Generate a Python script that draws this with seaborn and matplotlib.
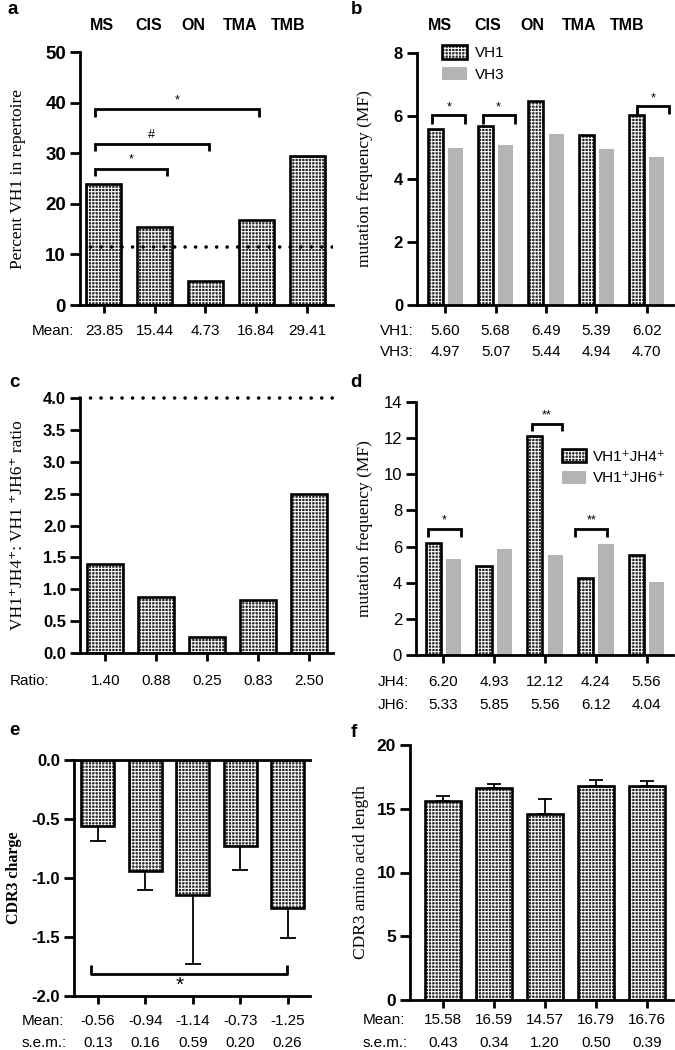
import numpy as np
import pandas as pd
import seaborn as sns
import matplotlib
matplotlib.use("Agg")
import matplotlib.pyplot as plt
import matplotlib.transforms as mtransforms
from matplotlib.patches import Rectangle, Patch
from matplotlib.legend_handler import HandlerTuple

# ---------------- data ----------------
groups = ["MS", "CIS", "ON", "TMA", "TMB"]
a_mean = [23.85, 15.44, 4.73, 16.84, 29.41]
a_ref = 11.5
b_vh1 = [5.60, 5.68, 6.49, 5.39, 6.02]
b_vh3 = [4.97, 5.07, 5.44, 4.94, 4.70]
c_ratio = [1.40, 0.88, 0.25, 0.83, 2.50]
c_ref = 4.0
d_jh4 = [6.20, 4.93, 12.12, 4.24, 5.56]
d_jh6 = [5.33, 5.85, 5.56, 6.12, 4.04]
e_mean = [-0.56, -0.94, -1.14, -0.73, -1.25]
e_sem = [0.13, 0.16, 0.59, 0.20, 0.26]
f_mean = [15.58, 16.59, 14.57, 16.79, 16.76]
f_sem = [0.43, 0.34, 1.20, 0.50, 0.39]

# significance annotations: (x0, x1, y, drop, text)
a_sig = [(-0.18, 1.24, 26.9, 1.5, "*"), (-0.18, 2.06, 31.8, 1.4, "#"), (-0.18, 3.06, 38.7, 1.6, "*")]
b_sig = [(-0.26, 0.40, 6.03, 0.28, "*"), (0.74, 1.38, 6.03, 0.28, "*"), (3.80, 4.44, 6.32, 0.25, "*")]
d_sig = [(-0.30, 0.34, 6.97, 0.45, "*"), (1.74, 2.34, 12.78, 0.40, "**"), (2.60, 3.22, 6.97, 0.45, "**")]
e_sig = [(-0.15, 3.98, -1.81, -0.07, "*")]

# ---------------- style ----------------
sns.set_theme(style="ticks")
plt.rcParams["font.family"] = ["Liberation Sans", "DejaVu Sans"]
plt.rcParams["axes.unicode_minus"] = False
plt.rcParams["hatch.linewidth"] = 0.7
for k in ["text.color", "axes.labelcolor", "xtick.color", "ytick.color", "axes.edgecolor"]:
    plt.rcParams[k] = "black"

HATCH_FACE = "#2a2a2a"
HATCH = "+" * 5
GREY = "#b4b4b4"
SERIF = ["Liberation Serif", "DejaVu Serif"]

W, H = 675, 1050
fig = plt.figure(figsize=(W / 100, H / 100), dpi=100)


def px_axes(l, t, r, b):
    return fig.add_axes([l / W, 1 - b / H, (r - l) / W, (b - t) / H])


def fy(y):
    return 1 - y / H


def hatchify(ax, patches):
    for p in patches:
        p.set_facecolor(HATCH_FACE)
        p.set_edgecolor("white")
        p.set_hatch(HATCH)
        p.set_linewidth(0)
        r = Rectangle((p.get_x(), p.get_y()), p.get_width(), p.get_height(), fill=False,
                      edgecolor="black", linewidth=1.9, zorder=p.get_zorder() + 0.2)
        ax.add_patch(r)


def style(ax, xlim, ylim, yticks, fmt, tsize, bold=True):
    sns.despine(ax=ax)
    for s in ["left", "bottom"]:
        ax.spines[s].set_linewidth(2.0)
    ax.set_xlim(*xlim)
    ax.set_ylim(*ylim)
    ax.set_yticks(yticks)
    ax.set_yticklabels([fmt.format(v) for v in yticks], fontsize=tsize,
                       fontweight="bold" if bold else "normal")
    ax.set_xticks(range(len(groups)))
    ax.set_xticklabels([])
    ax.tick_params(axis="y", width=2.0, length=7, pad=3)
    ax.tick_params(axis="x", width=2.0, length=6)
    ax.set_xlabel("")


def ylabel(ax, text, xpx, size, weight="normal"):
    ax.set_ylabel(text, family=SERIF, fontsize=size, fontweight=weight)
    bb = ax.get_position()
    left_px = bb.x0 * W
    ax.yaxis.set_label_coords((xpx - left_px) / (bb.width * W), 0.5)


def row(ax, label, lx, y, vals, xs):
    fig.text(lx / W, fy(y), label, ha="left", va="center", fontsize=11)
    tr = mtransforms.blended_transform_factory(ax.transData, fig.transFigure)
    for x, v in zip(xs, vals):
        ax.text(x, fy(y), f"{v:.2f}", transform=tr, ha="center", va="center", fontsize=11)


def brackets(ax, specs, fs, tgap=0.0):
    for x0, x1, y, drop, t in specs:
        ax.plot([x0, x0, x1, x1], [y - drop, y, y, y - drop], color="black", lw=2.0,
                solid_capstyle="butt", solid_joinstyle="miter", clip_on=False, zorder=5)
        ax.text((x0 + x1) / 2, y + tgap, t, ha="center", va="bottom", fontsize=fs, zorder=5)


def centers(patches):
    return [p.get_x() + p.get_width() / 2 for p in patches]


def top_labels(xs, y):
    for x, g in zip(xs, groups):
        fig.text(x / W, fy(y), g, ha="center", va="center", fontsize=11.5, fontweight="bold")


def letter(x, y, t):
    fig.text(x / W, fy(y), t, ha="left", va="top", fontsize=13.5, fontweight="bold")


legend_h1 = (Patch(facecolor=HATCH_FACE, edgecolor="white", hatch=HATCH, linewidth=0),
             Patch(fill=False, edgecolor="black", linewidth=1.9))
legend_h2 = Patch(facecolor=GREY, edgecolor="none")

# ---------------- panel a ----------------
ax = px_axes(80, 52, 333, 305)
sns.barplot(x=groups, y=a_mean, ax=ax, width=0.69, errorbar=None, color=HATCH_FACE)
hatchify(ax, list(ax.patches))
ax.axhline(a_ref, color="black", lw=2.6, linestyle=(0, (0.01, 2.9)), dash_capstyle="round", zorder=6)
style(ax, (-0.47, 4.51), (0, 50), list(range(0, 51, 10)), "{:d}", 13.5)
brackets(ax, a_sig, 9, tgap=0.6)
ylabel(ax, "Percent VH1 in repertoire", 26, 12.5)
row(ax, "Mean:", 32, 331, a_mean, centers(ax.patches[:5]))
top_labels([102, 149, 193, 240, 288], 25)
letter(7, 1, "a")

# ---------------- panel b ----------------
ax = px_axes(417, 53, 673, 305)
dfb = pd.DataFrame({"group": groups * 2, "series": ["VH1"] * 5 + ["VH3"] * 5, "value": b_vh1 + b_vh3})
sns.barplot(data=dfb, x="group", y="value", hue="series", palette={"VH1": HATCH_FACE, "VH3": GREY},
            width=0.8, gap=0.25, errorbar=None, ax=ax, legend=False)
vh1_bars = list(ax.containers[0])
for p in ax.containers[1]:
    p.set_linewidth(0)
hatchify(ax, vh1_bars)
style(ax, (-0.56, 4.52), (0, 8), [0, 2, 4, 6, 8], "{:d}", 12)
brackets(ax, b_sig, 9, tgap=0.05)
ylabel(ax, "mutation frequency (MF)", 373, 12.5)
gc = list(range(5))
row(ax, "VH1:", 380, 331, b_vh1, gc)
row(ax, "VH3:", 380, 352, b_vh3, gc)
top_labels([440, 488, 532, 579, 627], 25)
letter(351, 1, "b")
ax.legend([legend_h1, legend_h2], ["VH1", "VH3"], handler_map={tuple: HandlerTuple(ndivide=1)},
          loc="upper left", bbox_to_anchor=(0.098, 1.03), frameon=False, fontsize=11,
          handlelength=1.6, handleheight=0.95, handletextpad=0.55, labelspacing=0.45,
          borderpad=0, borderaxespad=0)

# ---------------- panel c ----------------
ax = px_axes(80, 398, 333, 653)
sns.barplot(x=groups, y=c_ratio, ax=ax, width=0.71, errorbar=None, color=HATCH_FACE)
hatchify(ax, list(ax.patches))
ax.axhline(c_ref, color="black", lw=2.6, linestyle=(0, (0.01, 2.9)), dash_capstyle="round",
           zorder=6, clip_on=False)
style(ax, (-0.5, 4.48), (0, 4.0), [i * 0.5 for i in range(9)], "{:.1f}", 12)
ylabel(ax, "VH1⁺JH4⁺: VH1 ⁺JH6⁺ ratio", 26, 12.5)
row(ax, "Ratio:", 10, 681, c_ratio, centers(ax.patches[:5]))
letter(9, 374, "c")

# ---------------- panel d ----------------
ax = px_axes(416, 402, 673, 655)
dfd = pd.DataFrame({"group": groups * 2, "series": ["JH4"] * 5 + ["JH6"] * 5, "value": d_jh4 + d_jh6})
sns.barplot(data=dfd, x="group", y="value", hue="series", palette={"JH4": HATCH_FACE, "JH6": GREY},
            width=0.8, gap=0.25, errorbar=None, ax=ax, legend=False)
jh4_bars = list(ax.containers[0])
for p in ax.containers[1]:
    p.set_linewidth(0)
hatchify(ax, jh4_bars)
style(ax, (-0.54, 4.52), (0, 14), list(range(0, 15, 2)), "{:d}", 12, bold=False)
brackets(ax, d_sig, 9, tgap=0.15)
ylabel(ax, "mutation frequency (MF)", 373, 12.5)
row(ax, "JH4:", 378, 682, d_jh4, gc)
row(ax, "JH6:", 378, 705, d_jh6, gc)
letter(350, 374, "d")
ax.legend([legend_h1, legend_h2], ["VH1⁺JH4⁺", "VH1⁺JH6⁺"], handler_map={tuple: HandlerTuple(ndivide=1)},
          loc="upper left", bbox_to_anchor=(0.568, 0.815), frameon=False, fontsize=11,
          handlelength=1.6, handleheight=0.95, handletextpad=0.45, labelspacing=0.45,
          borderpad=0, borderaxespad=0)

# ---------------- panel e ----------------
ax = px_axes(74, 760, 310, 996)
sns.barplot(x=groups, y=e_mean, ax=ax, width=0.69, errorbar=None, color=HATCH_FACE)
bars_e = list(ax.patches)
hatchify(ax, bars_e)
xe = centers(bars_e)
ax.errorbar(xe, e_mean, yerr=[e_sem, [0] * len(e_sem)], fmt="none", ecolor="black",
            elinewidth=1.3, capsize=6, capthick=1.3, zorder=0.5)
style(ax, (-0.5, 4.47), (-2.0, 0.0), [-2.0, -1.5, -1.0, -0.5, 0.0], "{:.1f}", 12)
ax.spines["top"].set_visible(True)
ax.spines["top"].set_linewidth(2.0)
for x0, x1, y, drop, t in e_sig:
    ax.plot([x0, x0, x1, x1], [y - drop, y, y, y - drop], color="black", lw=2.0,
            solid_capstyle="butt", clip_on=False, zorder=5)
    ax.text(1.73, y - 0.02, t, ha="center", va="top", fontsize=15, zorder=5)
ylabel(ax, "CDR3 charge", 22, 11.5, weight="bold")
row(ax, "Mean:", 22, 1021, e_mean, xe)
row(ax, "s.e.m.:", 22, 1043, e_sem, xe)
letter(9, 722, "e")

# ---------------- panel f ----------------
ax = px_axes(410, 745, 673, 1000)
sns.barplot(x=groups, y=f_mean, ax=ax, width=0.72, errorbar=None, color=HATCH_FACE)
bars_f = list(ax.patches)
hatchify(ax, bars_f)
xf = centers(bars_f)
ax.errorbar(xf, f_mean, yerr=[[0] * len(f_sem), f_sem], fmt="none", ecolor="black",
            elinewidth=1.3, capsize=5, capthick=1.3, zorder=0.5)
style(ax, (-0.65, 4.51), (0, 20), [0, 5, 10, 15, 20], "{:d}", 12.5)
ylabel(ax, "CDR3 amino acid length", 369, 12.5)
row(ax, "Mean:", 363, 1020, f_mean, xf)
row(ax, "s.e.m.:", 363, 1043, f_sem, xf)
letter(351, 724, "f")

fig.savefig("out.png", dpi=100)
